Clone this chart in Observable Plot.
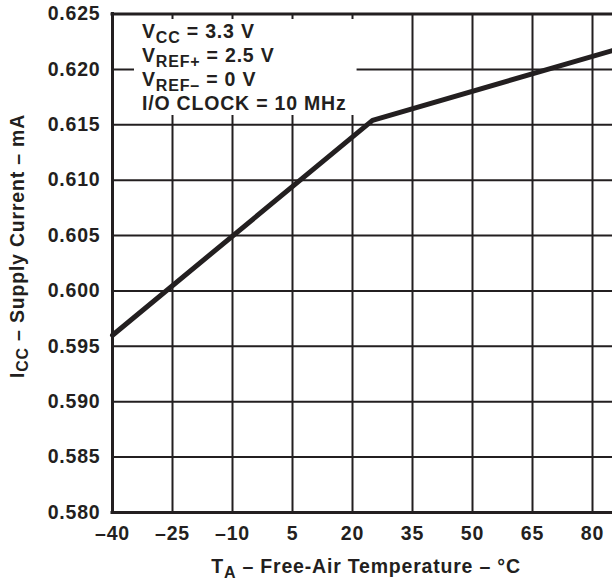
<!DOCTYPE html>
<html>
<head>
<meta charset="utf-8">
<script src="https://cdn.jsdelivr.net/npm/d3@7"></script>
<script src="https://cdn.jsdelivr.net/npm/@observablehq/plot@0.6"></script>
<style>
  html, body { margin: 0; padding: 0; background: #fff; }
  #chart svg { display: block; }
</style>
</head>
<body>
<div id="chart"></div>
<script>
// ---- data ----
const temperatures = [-40, 25, 85];            // °C
const supplyCurrent = [0.5960, 0.6154, 0.6217]; // mA
const xTicks = [-40, -25, -10, 5, 20, 35, 50, 65, 80];
const yTicks = [0.580, 0.585, 0.590, 0.595, 0.600, 0.605, 0.610, 0.615, 0.620, 0.625];
const xDomain = [-40, 85];
const yDomain = [0.580, 0.625];

// rich-text labels: [text, isSubscript]
const conditionLines = [
  [["V", false], ["CC", true], [" = 3.3 V", false]],
  [["V", false], ["REF+", true], [" = 2.5 V", false]],
  [["V", false], ["REF\u2013", true], [" = 0 V", false]],
  [["I/O CLOCK = 10 MHz", false]]
];
const xLabelParts = [["T", false], ["A", true], [" \u2013 Free-Air Temperature \u2013 \u00B0C", false]];
const yLabelParts = [["I", false], ["CC", true], [" \u2013 Supply Current \u2013 mA", false]];

// ---- chart ----
const ink = "#231f20";
const data = temperatures.map((t, i) => ({t, i: supplyCurrent[i]}));
const fmtX = d => (d < 0 ? "\u2013" + Math.abs(d) : String(d));
const fmtY = d3.format(".3f");

const M = {left: 112, right: 0, top: 13.5, bottom: 70};

const plot = Plot.plot({
  width: 612,
  height: 582,
  marginLeft: M.left,
  marginRight: M.right,
  marginTop: M.top,
  marginBottom: M.bottom,
  style: {
    fontFamily: "'Liberation Sans', Arial, Helvetica, sans-serif",
    fontSize: "19.5px",
    fontWeight: "bold",
    letterSpacing: "0.8px",
    color: ink,
    background: "white",
    overflow: "visible"
  },
  x: {domain: xDomain},
  y: {domain: yDomain},
  marks: [
    Plot.gridX(xTicks.slice(1), {stroke: ink, strokeOpacity: 1, strokeWidth: 2}),
    Plot.gridY(yTicks.slice(1, -1), {stroke: ink, strokeOpacity: 1, strokeWidth: 2}),
    Plot.axisX(xTicks, {tickSize: 0, tickPadding: 14, tickFormat: fmtX, label: null, fill: ink}),
    Plot.axisY(yTicks, {tickSize: 0, tickPadding: 12, tickFormat: fmtY, label: null, fill: ink}),
    Plot.ruleX([xDomain[0]], {stroke: ink, strokeWidth: 3, strokeLinecap: "square"}),
    Plot.ruleY(yDomain, {stroke: ink, strokeWidth: 3, strokeLinecap: "square"}),
    Plot.line(data, {x: "t", y: "i", stroke: ink, strokeWidth: 5, strokeLinejoin: "round"})
  ]
});

document.getElementById("chart").appendChild(plot);

// ---- rich text helpers ----
const SUB_SIZE = 16, SUB_SHIFT = 4.5;
function richText(sel, parts) {
  let shifted = false;
  parts.forEach(([txt, sub]) => {
    const ts = sel.append("tspan").text(txt);
    if (sub && !shifted) { ts.attr("dy", SUB_SHIFT).attr("font-size", SUB_SIZE); shifted = true; }
    else if (sub) { ts.attr("font-size", SUB_SIZE); }
    else if (!sub && shifted) { ts.attr("dy", -SUB_SHIFT); shifted = false; }
  });
  return sel;
}

const svg = d3.select(plot);

// annotation box with operating conditions
const ann = svg.append("g").attr("fill", ink).attr("text-anchor", "start").style("white-space", "pre");
const box = ann.append("rect").attr("fill", "white");
const textG = ann.append("g");
conditionLines.forEach((parts, k) => {
  const t = textG.append("text")
    .attr("text-anchor", "start")
    .attr("x", M.left + 30)
    .attr("y", M.top + 24.5 + k * 24);
  richText(t, parts);
});
const bb = textG.node().getBBox();
box.attr("x", bb.x - 8).attr("y", bb.y - 1)
   .attr("width", bb.width + 18).attr("height", bb.height + 2);

// axis titles
const xl = svg.append("text")
  .attr("x", 366).attr("y", 573)
  .attr("text-anchor", "middle").attr("fill", ink)
  .style("white-space", "pre");
richText(xl, xLabelParts);

const yl = svg.append("text")
  .attr("transform", "translate(23.5,246) rotate(-90)")
  .attr("text-anchor", "middle").attr("fill", ink)
  .style("white-space", "pre");
richText(yl, yLabelParts);
</script>
</body>
</html>
